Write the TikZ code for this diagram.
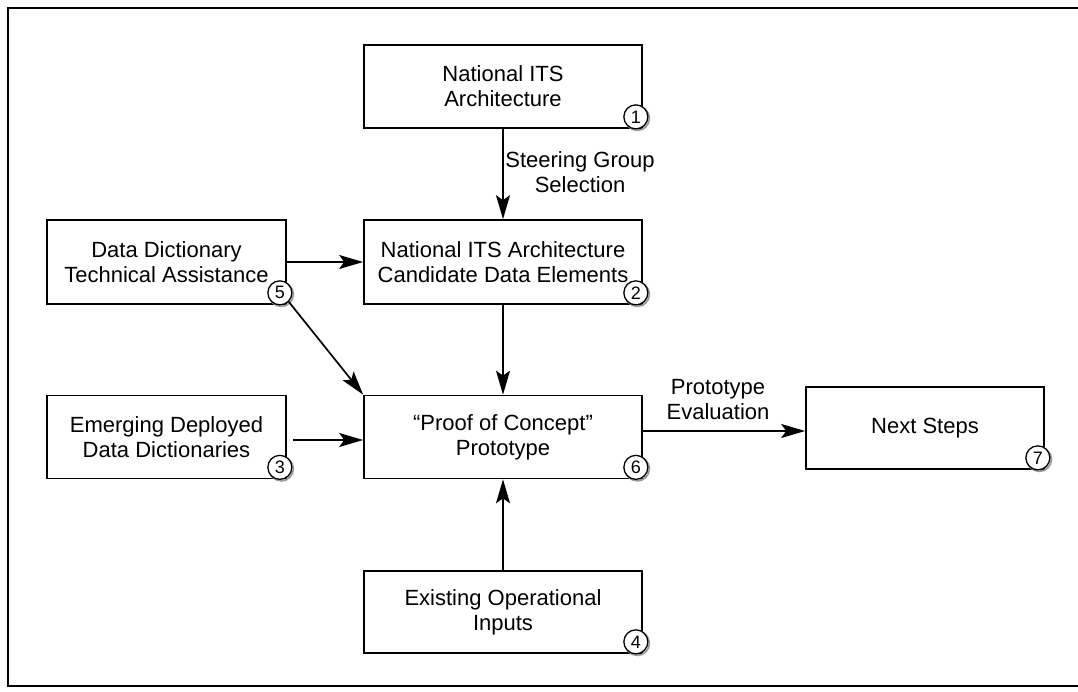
\documentclass[tikz,border=0pt]{standalone}
\usepackage{fontspec}
\setmainfont{Liberation Sans}
\usetikzlibrary{arrows.meta,calc}
\begin{document}
\begin{tikzpicture}[x=1pt,y=-1pt,
  box/.style={draw, line width=1.7pt, rectangle, inner sep=0pt, align=center,
    font=\fontsize{22}{25}\selectfont},
  num/.style={circle, draw, fill=white, line width=1.3pt, minimum size=24pt,
    inner sep=0pt, font=\fontsize{18}{18}\selectfont},
  numshade/.style={draw=black!40, line width=1.8pt},
  flow/.style={-{Stealth[length=24pt,width=14pt,inset=5pt]}, line width=1.7pt},
  lbl/.style={align=center, font=\fontsize{22}{25}\selectfont, inner sep=0pt},
  frame/.style={line width=1.6pt}
]
\useasboundingbox (0,0) rectangle (1078,692);

% outer frame (open on the right)
\draw[frame] (1078,8) -- (8,8) -- (8,686) -- (1078,686);

% process boxes
\node[box, minimum width=278pt, minimum height=83pt] (b1) at (503,86.5) {National ITS\\Architecture};
\node[box, minimum width=278pt, minimum height=84pt] (b2) at (503,262) {National ITS Architecture\\Candidate Data Elements};
\node[box, minimum width=239pt, minimum height=84pt] (b5) at (166.5,262) {Data Dictionary\\Technical Assistance};
\node[box, minimum width=239pt, minimum height=83pt] (b3) at (166.5,437) {Emerging Deployed\\Data Dictionaries};
\node[box, minimum width=278pt, minimum height=83pt] (b6) at (503,437) {``Proof of Concept''\\Prototype};
\node[box, minimum width=238pt, minimum height=82pt] (b7) at (925,428) {Next Steps};
\node[box, minimum width=278pt, minimum height=82pt] (b4) at (503,612) {Existing Operational\\Inputs};

% numbered markers on the lower right corners
\foreach \b/\n in {b1/1,b2/2,b3/3,b4/4,b5/5,b6/6,b7/7}{
  \draw[numshade] ($(\b.south east)+(-5.5,-10.5)$) circle (12);
  \node[num] (c\n) at ($(\b.south east)+(-7,-12)$) {\n};
}

% connectors
\draw[flow] (b1) -- (b2);
\draw[flow] (b5.east) -- (b2.west);
\draw[flow] (b2) -- (b6);
\draw[flow] (c5.south east) -- (b6.north west);
\draw[flow] ([xshift=6pt,yshift=-3pt]b3.east) -- ([yshift=-3pt]b6.west);
\draw[flow] (b6.east |- 0,431) -- (b7.west |- 0,431);
\draw[flow] (b4) -- (b6);

% connector labels
\node[lbl] (l1) at (580,172.5) {Steering Group\\Selection};
\node[lbl, anchor=south] (l2) at (718,420) {Prototype\\Evaluation};
\end{tikzpicture}
\end{document}
